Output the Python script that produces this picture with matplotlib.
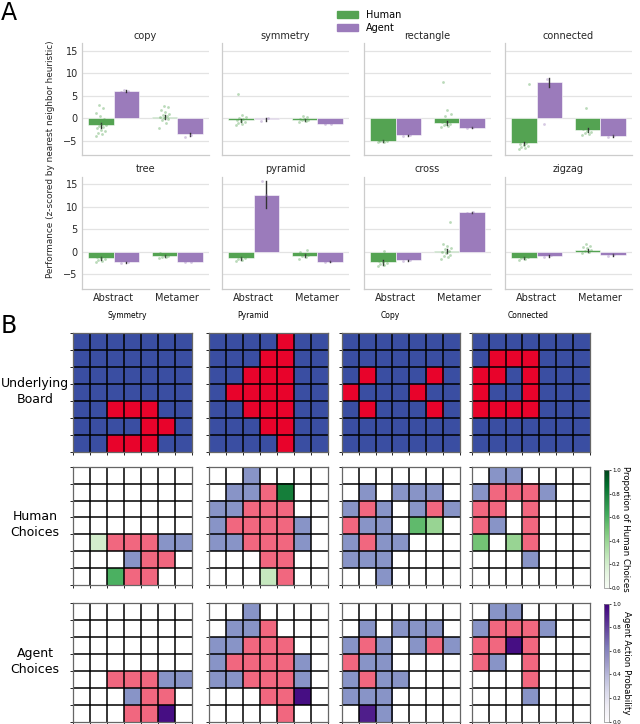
"""Figure: human vs agent performance (A) and example boards (B)."""

import matplotlib

matplotlib.use("Agg")
import numpy as np
from matplotlib import pyplot as plt
from matplotlib.cm import ScalarMappable
from matplotlib.colors import Normalize, to_rgb
from matplotlib.patches import Patch

# ---------------- panel A data ----------------
tasks = ["copy", "symmetry", "rectangle", "connected", "tree", "pyramid", "cross", "zigzag"]
conditions = ["Abstract", "Metamer"]

human_abstract = [-1.6, -0.5, -5.0, -5.6, -1.5, -1.5, -2.4, -1.4]
agent_abstract = [6.1, -0.3, -3.85, 8.1, -2.4, 12.5, -1.9, -1.0]
human_metamer = [0.2, -0.4, -1.1, -2.6, -1.0, -0.9, 0.05, 0.3]
agent_metamer = [-3.6, -1.3, -2.1, -3.9, -2.3, -2.2, 8.7, -0.8]

# error bar (low, high) per task
human_abstract_ci = [(-2.1, -1.1), (-0.8, -0.2), (-5.2, -4.8), (-6.0, -5.2),
                     (-1.8, -1.2), (-1.8, -1.2), (-2.9, -1.9), (-1.6, -1.2)]
agent_abstract_ci = [(5.9, 6.3), (-0.6, 0.0), (-4.0, -3.7), (6.9, 8.9),
                     (-2.5, -2.3), (9.8, 15.6), (-2.0, -1.8), (-1.2, -0.8)]
human_metamer_ci = [(-0.2, 0.6), (-0.6, -0.2), (-1.6, -0.6), (-3.0, -2.2),
                    (-1.2, -0.8), (-1.2, -0.6), (-0.4, 0.5), (0.0, 0.6)]
agent_metamer_ci = [(-4.0, -3.4), (-1.4, -1.2), (-2.2, -2.0), (-4.1, -3.7),
                    (-2.4, -2.2), (-2.3, -2.1), (8.6, 8.8), (-1.0, -0.6)]

human_abstract_pts = [
    [-3.9, -3.5, -3.2, -2.9, -2.6, -2.3, -2.0, -1.8, -1.5, -1.2, -0.8, -0.3, 0.5, 1.2, 2.2, 3.0],
    [-1.6, -1.3, -1.1, -0.9, -0.7, -0.5, -0.3, 0.0, 0.3, 0.6, 5.3],
    [-5.4, -5.2, -5.1, -5.0, -4.9, -4.8],
    [-6.8, -6.6, -6.4, -6.2, -6.0, -5.8, -5.5, -5.0, 7.5],
    [-2.4, -2.1, -1.9, -1.7, -1.5, -1.3, -1.0],
    [-2.1, -1.9, -1.7, -1.5, -1.3, -1.0],
    [-3.3, -3.0, -2.8, -2.6, -2.4, -2.1, -1.8, -1.3, -0.5, 0.2],
    [-1.9, -1.7, -1.5, -1.3, -1.1],
]
human_metamer_pts = [
    [-2.3, -1.0, -0.5, -0.2, 0.0, 0.2, 0.4, 0.6, 0.9, 1.3, 1.8, 2.4, 2.8],
    [-0.9, -0.7, -0.5, -0.4, -0.3, -0.1, 0.2, 0.4],
    [-2.0, -1.8, -1.6, -1.4, -1.2, -0.9, -0.6, 0.5, 1.0, 1.8, 8.0],
    [-3.7, -3.5, -3.2, -3.0, -2.8, -2.5, -2.0, 2.3],
    [-1.5, -1.3, -1.1, -0.9, -0.7, -0.4],
    [-1.6, -1.3, -1.0, -0.8, -0.5, 0.0, 0.4],
    [-1.6, -1.3, -1.0, -0.7, -0.4, -0.1, 0.2, 0.5, 0.9, 1.3, 1.8, 6.5],
    [-0.3, 0.0, 0.2, 0.4, 0.7, 1.0, 1.3, 1.6],
]
agent_abstract_pts = [[5.8, 6.1, 6.3], [-0.6, 0.0], [-4.0, -3.7], [-1.3, 7.5, 8.8],
                      [-2.5, -2.3], [2.5, 5.0, 7.5, 10.0, 12.5, 15.7], [-2.0, -1.8], [-1.2, -0.8]]
agent_metamer_pts = [[-4.2, -3.8, -2.2], [-1.4, -1.2], [-2.2, -2.0], [-4.1, -3.7],
                     [-2.4, -2.2], [-2.3, -2.1], [8.6, 8.8], [-1.0, -0.6]]

# ---------------- panel B data ----------------
board_names = ["Symmetry", "Pyramid", "Copy", "Connected"]
boards = [
    ["BBBBBBB", "BBBBBBB", "BBBBBBB", "BBBBBBB", "BBRRRBB", "BBBBRRB", "BBRRRBB"],
    ["BBBBRBB", "BBBRRBB", "BBRRRBB", "BRRRRBB", "BBRRRBB", "BBBRRBB", "BBBBRBB"],
    ["BBBBBBB", "BBBBBBB", "BRBBBRB", "RBBBRBB", "BRBBBRB", "BBBBBBB", "BBBBBBB"],
    ["BBBBBBB", "BRRRBBB", "RRBRBBB", "RBBRBBB", "RRRRBBB", "BBBBBBB", "BBBBBBB"],
]
revealed = [
    [".......", ".......", ".......", ".......", "..xxxxx", "...xxx.", "...xx.."],
    ["..x....", ".xxx...", "xxxxx..", "xxxxxx.", "xxxxxx.", "...xx..", "....x.."],
    [".......", ".x.xxx.", "xxx.xxx", "xxx....", "xxxx...", "xxx....", "..x...."],
    [".xx....", "xxxxx..", "xx.x...", "xx.x...", "...x...", "...x...", "......."],
]
# (row, col, value)
human_choices = [
    [(4, 1, 0.2), (6, 2, 0.6)],
    [(1, 4, 0.8), (6, 3, 0.25)],
    [(3, 4, 0.55), (3, 5, 0.4)],
    [(4, 0, 0.5), (4, 2, 0.4)],
]
agent_choices = [
    [(6, 5, 0.95)],
    [(5, 5, 0.95)],
    [(6, 1, 0.9)],
    [(2, 2, 0.95)],
]

HUMAN = "#54a352"
AGENT = "#9b7bbb"
TILE = {"B": to_rgb("#3a4ea2"), "R": to_rgb("#e8032b")}
W, H = 640, 724

fig = plt.figure(figsize=(W / 100, H / 100), dpi=100)


def px_axes(x0, y0, x1, y1):
    return fig.add_axes([x0 / W, 1 - y1 / H, (x1 - x0) / W, (y1 - y0) / H])


def jitter(n):
    return ((np.arange(n) * 0.618) % 1 - 0.5) * 0.16


# ---------------- panel A ----------------
lefts = [82, 222, 364, 505]
tops = [43, 176.5]
for i, task in enumerate(tasks):
    row, col = divmod(i, 4)
    ax = px_axes(lefts[col], tops[row], lefts[col] + 127, tops[row] + 112)
    ax.set_axisbelow(True)
    ax.yaxis.grid(True, color="#e3e3e3", lw=0.9)
    groups = [
        (-0.2, human_abstract[i], human_abstract_ci[i], human_abstract_pts[i], HUMAN),
        (0.2, agent_abstract[i], agent_abstract_ci[i], agent_abstract_pts[i], AGENT),
        (0.8, human_metamer[i], human_metamer_ci[i], human_metamer_pts[i], HUMAN),
        (1.2, agent_metamer[i], agent_metamer_ci[i], agent_metamer_pts[i], AGENT),
    ]
    for x, value, ci, pts, color in groups:
        ax.bar(x, value, width=0.4, color=color, edgecolor="white", linewidth=0.4)
        ax.plot([x, x], ci, color="#333333", lw=1.0, zorder=3)
        ax.scatter(x + jitter(len(pts)), pts, s=4, color=color, alpha=0.4,
                   linewidths=0, zorder=4)
    ax.set_xlim(-0.5, 1.5)
    ax.set_ylim(-8.2, 16.7)
    ax.set_yticks([-5, 0, 5, 10, 15])
    ax.set_xticks([0, 1])
    ax.set_title(task, fontsize=7, pad=3, color="#262626")
    for side in ("top", "right"):
        ax.spines[side].set_visible(False)
    for side in ("left", "bottom"):
        ax.spines[side].set_color("#cccccc")
        ax.spines[side].set_linewidth(0.9)
    ax.tick_params(length=0, labelsize=7, colors="#262626", pad=3)
    if row == 1:
        ax.set_xticklabels(conditions)
    else:
        ax.set_xticklabels([])
    if col != 0:
        ax.set_yticklabels([])

fig.text(51 / W, 1 - 159 / H, "Performance (z-scored by nearest neighbor heuristic)",
         rotation=90, ha="center", va="center", fontsize=6.4, color="#262626")
fig.legend(
    handles=[Patch(color=HUMAN, label="Human"), Patch(color=AGENT, label="Agent")],
    loc="upper left",
    bbox_to_anchor=(328 / W, 1 - 1 / H),
    frameon=False,
    fontsize=7,
    handlelength=2.2,
    handleheight=0.7,
    labelspacing=0.3,
)
fig.text(1 / W, 1 - 1 / H, "A", fontsize=17, va="top", ha="left")
fig.text(1 / W, 1 - 314 / H, "B", fontsize=17, va="top", ha="left")

# ---------------- panel B ----------------
greens = plt.get_cmap("Greens")
purples = plt.get_cmap("Purples")
glefts = [73.3, 209.3, 341.7, 471.7]
gtops = [333.3, 466.7, 603.3]
title_x = [127, 253, 390, 528]
row_labels = ["Underlying\nBoard", "Human\nChoices", "Agent\nChoices"]


def board_image(board, mask=None, choices=(), cmap=None):
    img = np.ones((7, 7, 3))
    for r in range(7):
        for c in range(7):
            base = np.array(TILE[board[r][c]])
            if mask is None:
                img[r, c] = base
            elif mask[r][c] == "x":
                img[r, c] = 0.6 * base + 0.4
    for r, c, v in choices:
        img[r, c] = cmap(v)[:3]
    return img


for j, name in enumerate(board_names):
    images = [
        board_image(boards[j]),
        board_image(boards[j], revealed[j], human_choices[j], greens),
        board_image(boards[j], revealed[j], agent_choices[j], purples),
    ]
    for k, img in enumerate(images):
        ax = px_axes(glefts[j], gtops[k], glefts[j] + 118.5, gtops[k] + 118.5)
        ax.imshow(img, extent=(0, 7, 7, 0), interpolation="nearest")
        for t in range(1, 7):
            ax.axhline(t, color="black", lw=1.1)
            ax.axvline(t, color="black", lw=1.1)
        ax.set_xlim(0, 7)
        ax.set_ylim(7, 0)
        ax.set_xticks(range(8))
        ax.set_yticks(range(8))
        ax.tick_params(length=2, width=0.6, labelleft=False, labelbottom=False)
        for spine in ax.spines.values():
            spine.set_color("#666666")
            spine.set_linewidth(0.9)
    fig.text(title_x[j] / W, 1 - 316 / H, name, fontsize=5.5, ha="center", va="center")

for k, label in enumerate(row_labels):
    fig.text(35 / W, 1 - (gtops[k] + 58) / H, label, fontsize=9, ha="center",
             va="center", linespacing=1.3)

for (x0, y0, x1, y1), cmap, label in (
    ((603.5, 470, 608.5, 588), greens, "Proportion of Human Choices"),
    ((604, 603.5, 609, 721.5), purples, "Agent Action Probability"),
):
    cax = px_axes(x0, y0, x1, y1)
    cbar = fig.colorbar(ScalarMappable(norm=Normalize(0, 1), cmap=cmap), cax=cax)
    cbar.set_ticks([0.0, 0.2, 0.4, 0.6, 0.8, 1.0])
    cbar.ax.tick_params(labelsize=4, length=1.5, width=0.5, pad=1)
    cbar.outline.set_linewidth(0.5)
    cbar.outline.set_edgecolor("#888888")
    cbar.set_label(label, rotation=270, fontsize=6.2, labelpad=7)

fig.savefig("out.png", dpi=100)
